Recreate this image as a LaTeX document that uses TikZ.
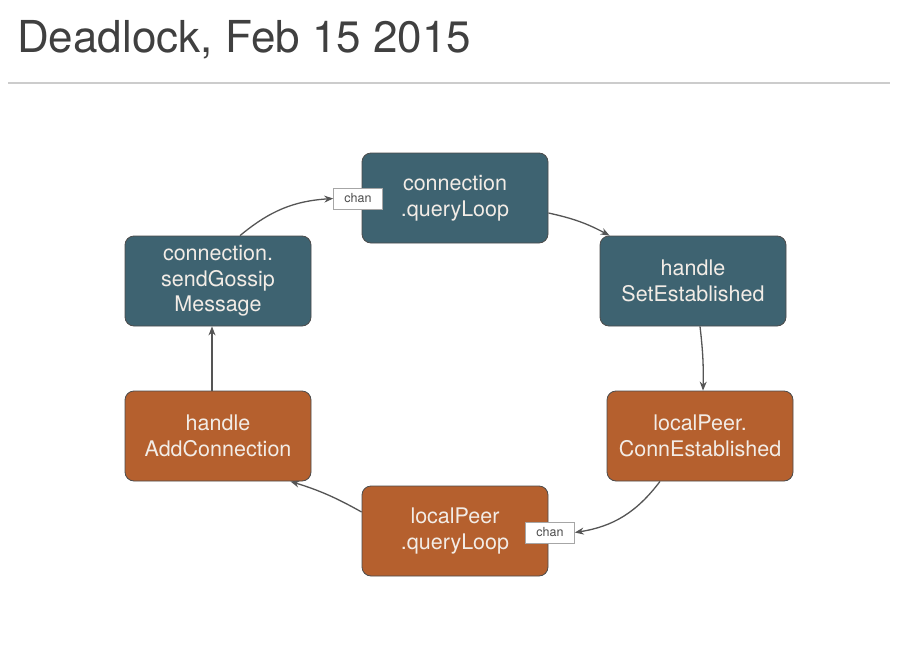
\documentclass[tikz,border=0pt]{standalone}
\usepackage{fontspec}
\setmainfont{TeX Gyre Heros}
\usetikzlibrary{arrows.meta,calc}
\definecolor{tealbox}{HTML}{3E6371}
\definecolor{orangebox}{HTML}{B5602E}
\definecolor{boxtext}{HTML}{F2ECE6}
\definecolor{arrowgray}{HTML}{555555}
\begin{document}
\begin{tikzpicture}[x=1pt,y=-1pt,
  proc/.style={draw=black!70,line width=0.8pt,rounded corners=9pt,minimum width=186pt,minimum height=90pt,
    text=boxtext,align=center,font=\fontsize{21.5}{25.5}\selectfont,inner sep=2pt},
  tealproc/.style={proc,fill=tealbox},
  orangeproc/.style={proc,fill=orangebox},
  chanlbl/.style={draw=black!35,fill=white,line width=0.6pt,minimum width=49pt,minimum height=21pt,
    inner sep=1pt,font=\fontsize{12.5}{14}\selectfont,text=black!70},
  conn/.style={draw=arrowgray,line width=1.3pt,-{Stealth[length=9pt,width=7pt]}}]
\useasboundingbox (0,0) rectangle (916,645);
\fill[white] (0,0) rectangle (916,645);
\node[anchor=base west,font=\fontsize{44}{50}\selectfont,text=black!75,inner sep=0pt] (title) at (17,52) {Deadlock, Feb 15 2015};
\draw[black!20,line width=2pt] (8,83) -- (890,83);

\node[tealproc] (cq) at (455,198) {connection\\.queryLoop};
\node[tealproc] (hs) at (693,281) {handle\\SetEstablished};
\node[orangeproc] (lc) at (700,436) {localPeer.\\ConnEstablished};
\node[orangeproc] (lq) at (455,531) {localPeer\\.queryLoop};
\node[orangeproc] (ha) at (218,436) {handle\\AddConnection};
\node[tealproc] (cs) at (218,281) {connection.\\sendGossip\\Message};

\node[chanlbl] (c1) at (358,198.5) {chan};
\node[chanlbl] (c2) at (550,532.5) {chan};

\draw[conn] ($(cs.north)+(22,0)$) to[bend left=18] (c1.west);
\draw[conn] ($(cq.east)+(0,15)$) to[bend left=8] ($(hs.north west)+(10,0)$);
\draw[conn] ($(hs.south)+(7,0)$) to[bend left=4] ($(lc.north)+(3,0)$);
\draw[conn] ($(lc.south)+(-40,0)$) to[bend left=22] (c2.east);
\draw[conn] ($(lq.west)+(0,-19)$) to[bend right=6] ($(ha.south east)+(-21,0)$);
\draw[conn] ($(ha.north)+(-6,0)$) -- ($(cs.south)+(-6,0)$);
\end{tikzpicture}
\end{document}
